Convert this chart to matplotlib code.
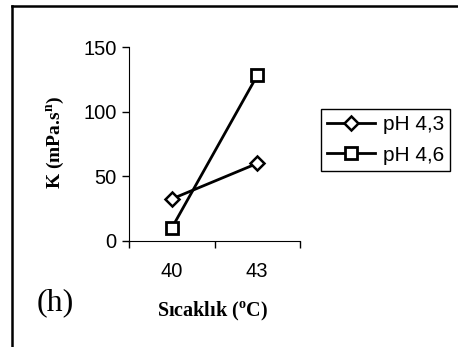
import matplotlib.pyplot as plt
from matplotlib.lines import Line2D

# Consistency coefficient K vs temperature
temps = ['40', '43']
k_ph43 = [32.5, 60]
k_ph46 = [10, 128]

plt.rcParams['mathtext.fontset'] = 'custom'
plt.rcParams['mathtext.rm'] = 'Liberation Serif'
plt.rcParams['mathtext.bf'] = 'Liberation Serif:bold'

fig = plt.figure(figsize=(4.58, 3.47), dpi=100)
ax = fig.add_axes([0.2817, 0.3055, 0.3733, 0.559])

pos = [0.5, 1.5]
ax.plot(pos, k_ph43, color='black', lw=2, marker='D', ms=7, mfc='white', mec='black', mew=1.8, label='pH 4,3')
ax.plot(pos, k_ph46, color='black', lw=2, marker='s', ms=8, mfc='white', mec='black', mew=2, label='pH 4,6')

ax.set_xlim(0, 2)
ax.set_ylim(0, 150)
ax.set_yticks([0, 50, 100, 150])
ax.set_xticks([0, 1, 2])
ax.set_xticklabels([])
ax.set_xticks(pos, minor=True)
ax.set_xticklabels(temps, minor=True)
ax.tick_params(axis='x', which='minor', length=0, pad=15)
ax.tick_params(axis='both', which='major', length=5, width=1)
ax.tick_params(axis='y', pad=4)
for lab in ax.get_yticklabels() + ax.get_xticklabels(minor=True):
    lab.set_fontfamily('Liberation Sans')
    lab.set_fontsize(14.5)
ax.spines['top'].set_visible(False)
ax.spines['right'].set_visible(False)

fig.text(0.122, 0.588, r'K (mPa.s$^{\mathbf{n}}$)', rotation=90, ha='center', va='center',
         family='Liberation Serif', weight='bold', fontsize=14)
fig.text(0.465, 0.101, r'Sıcaklık ($^{\mathbf{o}}$C)', ha='center', va='center',
         family='Liberation Serif', weight='bold', fontsize=14.5)
fig.text(0.12, 0.127, '(h)', ha='center', va='center', family='Liberation Serif', fontsize=23)

leg = ax.legend(loc='upper left', bbox_to_anchor=(0.701, 0.686), bbox_transform=fig.transFigure,
                borderaxespad=0, fancybox=False, edgecolor='black', framealpha=1,
                prop={'family': 'Liberation Sans', 'size': 15}, handlelength=2.3,
                borderpad=0.3, labelspacing=0.55, handletextpad=0.35)
leg.get_frame().set_linewidth(1)

# partial outer frame
fig.add_artist(Line2D([0.026, 1.0], [0.983, 0.983], color='black', lw=1.8, transform=fig.transFigure))
fig.add_artist(Line2D([0.026, 0.026], [0.0, 0.983], color='black', lw=1.8, transform=fig.transFigure))

fig.savefig('out.png', dpi=100)
